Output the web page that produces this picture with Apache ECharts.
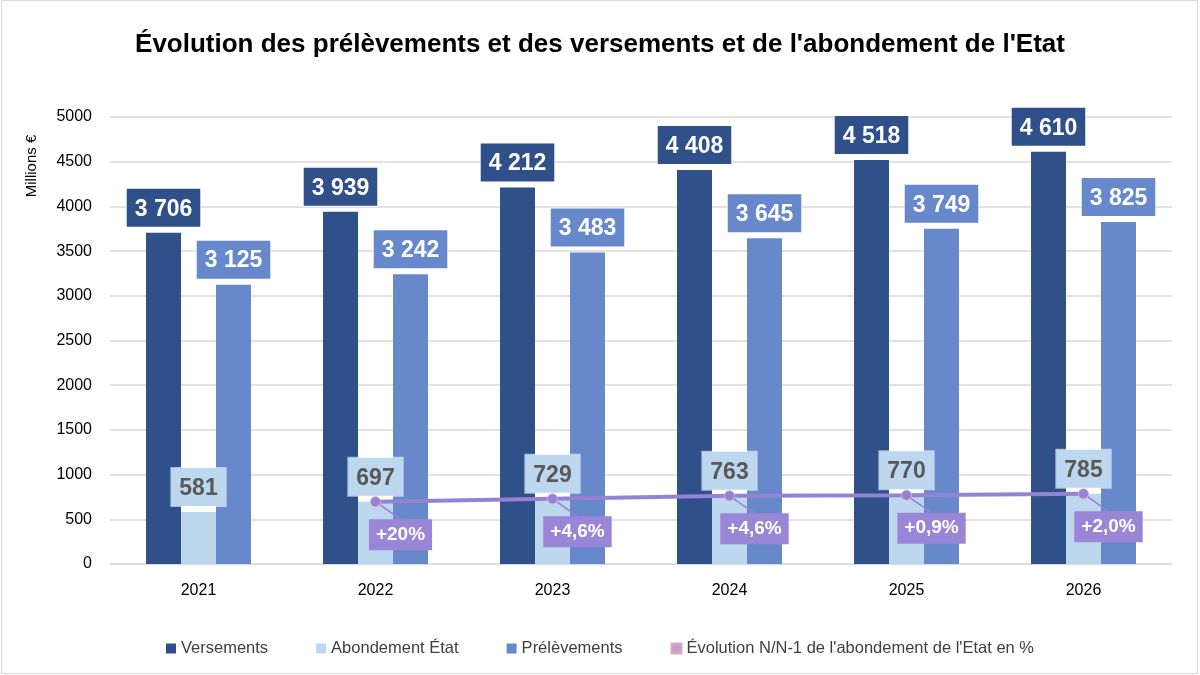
<!DOCTYPE html>
<html>
<head>
<meta charset="utf-8">
<script src="https://cdn.jsdelivr.net/npm/echarts@6/dist/echarts.min.js"></script>
<style>
  html, body { margin: 0; padding: 0; background: #fff; }
  #chart { width: 1200px; height: 675px; }
</style>
</head>
<body>
<div id="chart"></div>
<script>
const years = ['2021', '2022', '2023', '2024', '2025', '2026'];
const versements = [3706, 3939, 4212, 4408, 4518, 4610];
const abondement = [581, 697, 729, 763, 770, 785];
const prelevements = [3125, 3242, 3483, 3645, 3749, 3825];
// évolution N/N-1, drawn at the height of the abondement bar
const evolutionLine = ['-', 697, 729, 763, 770, 785];
const evolutionLabels = ['', '+20%', '+4,6%', '+4,6%', '+0,9%', '+2,0%'];

const chart = echarts.init(document.getElementById('chart'));

function fmt(v) {
    return String(v).replace(/\B(?=(\d{3})+(?!\d))/g, ' ');
}

function barLabel(bg, color) {
    return {
        show: true,
        position: 'top',
        distance: 6,
        formatter: (p) => fmt(p.value),
        backgroundColor: bg,
        borderColor: 'rgba(255,255,255,0.6)',
        borderWidth: 1,
        color: color,
        fontFamily: 'Liberation Sans',
        fontWeight: 'bold',
        fontSize: 23,
        padding: [9, 8, 6, 8]
    };
}

const option = {
    animation: false,
    title: {
        text: "Évolution des prélèvements et des versements et de l'abondement de l'Etat",
        left: 'center',
        top: 27,
        textStyle: {
            fontFamily: 'Liberation Sans',
            fontWeight: 'bold',
            fontSize: 26,
            color: '#000'
        }
    },
    graphic: [
        {
            type: 'rect',
            shape: { x: 1.5, y: 0.5, width: 1196, height: 673 },
            style: { fill: 'none', stroke: '#d9d9d9', lineWidth: 1 },
            silent: true
        },
        {
            type: 'text',
            x: 32,
            y: 166,
            rotation: Math.PI / 2,
            style: {
                text: 'Millions €',
                fontFamily: 'Liberation Sans',
                fontSize: 15,
                fill: '#000',
                align: 'center',
                verticalAlign: 'middle'
            }
        }
    ],
    grid: { left: 110, right: 28, top: 117, bottom: 111 },
    legend: {
        bottom: 13,
        left: 'center',
        itemWidth: 10,
        itemHeight: 10,
        itemGap: 48,
        textStyle: { fontFamily: 'Liberation Sans', fontSize: 16.5, color: '#404040' },
        data: [
            { name: 'Versements', icon: 'rect' },
            { name: 'Abondement État', icon: 'rect' },
            { name: 'Prélèvements', icon: 'rect' },
            { name: "Évolution N/N-1 de l'abondement de l'Etat en %", icon: 'rect', itemStyle: { color: '#c89cc6' } }
        ]
    },
    xAxis: {
        type: 'category',
        data: years,
        axisTick: { show: false },
        axisLine: { lineStyle: { color: '#d9d9d9' } },
        axisLabel: { fontFamily: 'Liberation Sans', fontSize: 16, color: '#000', margin: 19 }
    },
    yAxis: {
        type: 'value',
        min: 0,
        max: 5000,
        interval: 500,
        axisLine: { show: false },
        axisTick: { show: false },
        splitLine: { lineStyle: { color: '#d9d9d9', width: 1.5 } },
        axisLabel: {
            fontFamily: 'Liberation Sans',
            fontSize: 16,
            color: '#000',
            margin: 18,
            formatter: (v) => String(v)
        }
    },
    series: [
        {
            name: 'Versements',
            type: 'bar',
            barWidth: 35,
            barGap: '0%',
            itemStyle: { color: '#2f5089' },
            label: barLabel('#2f5089', '#fff'),
            data: versements
        },
        {
            name: 'Abondement État',
            type: 'bar',
            barWidth: 35,
            barGap: '0%',
            itemStyle: { color: '#bdd7ee' },
            label: barLabel('#bdd7ee', '#595959'),
            data: abondement
        },
        {
            name: 'Prélèvements',
            type: 'bar',
            barWidth: 35,
            barGap: '0%',
            itemStyle: { color: '#6789cb' },
            label: barLabel('#6789cb', '#fff'),
            data: prelevements
        },
        {
            name: "Évolution N/N-1 de l'abondement de l'Etat en %",
            type: 'line',
            data: evolutionLine,
            z: 5,
            symbol: 'circle',
            symbolSize: 10,
            lineStyle: { color: '#9482d5', width: 4 },
            itemStyle: { color: '#9482d5', borderColor: '#d9a9c9', borderWidth: 1 },
            label: {
                show: true,
                position: 'inside',
                formatter: (p) => evolutionLabels[p.dataIndex],
                backgroundColor: '#9a86d6',
                color: '#fff',
                fontFamily: 'Liberation Sans',
                fontWeight: 'bold',
                fontSize: 19,
                padding: [7, 7, 5, 7]
            },
            labelLayout: { dx: 25, dy: 33 },
            labelLine: { show: true, lineStyle: { color: '#9482d5', width: 1.5 } }
        }
    ]
};

chart.setOption(option);
</script>
</body>
</html>
